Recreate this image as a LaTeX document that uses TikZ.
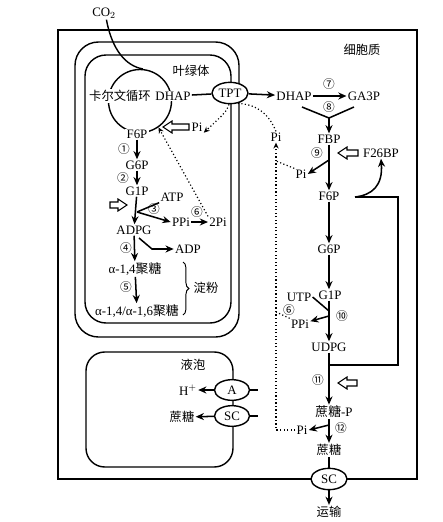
\documentclass[tikz,border=0pt]{standalone}
\usepackage{fontspec}
\setmainfont{Liberation Serif}
\newfontfamily\cjk{Noto Sans CJK SC}
\usepackage{tikz}
\usetikzlibrary{arrows.meta, shapes.geometric, decorations.pathreplacing}

\begin{document}
\begin{tikzpicture}[x=0.03cm, y=-0.03cm,
    every node/.style={inner sep=1pt, font=\fontsize{11}{13}\selectfont},
    zh/.style={font=\cjk\fontsize{10.5}{12}\selectfont},
    num/.style={font=\cjk\fontsize{10}{11}\selectfont},
    memb/.style={line width=1.2pt},
    link/.style={line width=1.3pt},
    arr/.style={link, -{Stealth[length=7pt, width=6pt]}},
    dots/.style={dotted, line width=1pt},
    dotarr/.style={dots, -{Stealth[length=5pt, width=4.5pt]}},
    carrier/.style={ellipse, draw, memb, fill=white, inner sep=0pt, minimum width=1.08cm, minimum height=0.64cm},
    hollowarrow/.pic={\draw[line width=0.9pt, fill=white, line join=miter] (0,0) -- (9,-6) -- (9,-3) -- (#1,-3) -- (#1,3) -- (9,3) -- (9,6) -- cycle;}
]
\useasboundingbox (0,0) rectangle (443,522);

% membranes
\draw[memb] (58,30) rectangle (417,479);
\draw[memb, rounded corners=20pt] (75,42) rectangle (239,337);
\draw[memb, rounded corners=18pt] (85,55) rectangle (231,323);
\draw[memb, rounded corners=16pt] (86,352) rectangle (233,467);

% chloroplast
\node[circle, draw, memb, minimum size=1.89cm, inner sep=0pt] (calv) at (140,101) {};
\node (co2) at (104,13) {CO$_2$};
\draw[memb] (co2.-70) .. controls (112,50) and (126,66) .. (calv.85);
\node[zh, fill=white] (cyc) at (120,96) {卡尔文循环};
\node[fill=white] (dhapc) at (173,96) {DHAP};
\node[zh] (chl) at (191,71) {叶绿体};
\node[fill=white] (f6pc) at (137,134) {F6P};
\node (pic) at (197,127) {Pi};
\pic at (163,127) {hollowarrow=26};
\node[num] (n1) at (124,149) {①};
\node (g6pc) at (137,165) {G6P};
\node[num] (n2) at (123,178) {②};
\node (g1pc) at (137,191) {G1P};
\node (atpc) at (172,197) {ATP};
\pic[xscale=-1] at (127,205) {hollowarrow=17};
\node[num] (n3) at (154,209) {③};
\node (ppic) at (181,222) {PPi};
\node[num] (n6a) at (197,212) {⑥};
\node (pi2) at (218,222) {2Pi};
\node (adpg) at (134,230) {ADPG};
\node[num] (n4) at (126,248) {④};
\node (adp) at (188,249) {ADP};
\node (glu14) at (135,269) {α-1,4{\cjk 聚糖}};
\node[num] (n5) at (126,287) {⑤};
\node (glu16) at (137,311) {α-1,4/α-1,6{\cjk 聚糖}};
\node[zh] (starch) at (206,288) {淀粉};
\coordinate (j3) at (137,212);
\coordinate (j4) at (139,238);
\draw[arr] (f6pc) -- (g6pc);
\draw[arr] (g6pc) -- (g1pc);
\draw[arr] (g1pc) -- (adpg);
\draw[link] (atpc.south west) -- (j3);
\draw[arr] (j3) -- (ppic.west);
\draw[arr] (ppic) -- (pi2);
\draw[dotarr] (pi2.north west) -- (calv.-55);
\draw[arr] (adpg) -- (glu14);
\draw[arr] (j4) -- (152,249) -- (adp.west);
\draw[arr] (glu14) -- (glu16);
\draw[line width=0.8pt, decorate, decoration={brace, amplitude=5pt}] (183,262) -- (183,315);

% envelope transport
\node[carrier] (tpt) at (230,93) {TPT};
\draw[link] (dhapc) -- (tpt);

% cytosol
\node[zh] (cyto) at (362,50) {细胞质};
\node (dhap) at (294,96) {DHAP};
\node[num] (n7) at (329,84) {⑦};
\node (ga3p) at (364,96) {GA3P};
\node[num] (n8) at (329,107) {⑧};
\node (fbp) at (329,139) {FBP};
\node[num] (n9) at (317,153) {⑨};
\node (f26bp) at (381,153) {F26BP};
\pic at (338,153) {hollowarrow=20};
\node (pi9) at (301,174) {Pi};
\node (pitop) at (276,137) {Pi};
\node (f6p) at (329,196) {F6P};
\node (g6p) at (329,249) {G6P};
\node (g1p) at (330,295) {G1P};
\node (utp) at (299,297) {UTP};
\node[num] (n10) at (342,316) {⑩};
\node (ppi) at (300,324) {PPi};
\node[num] (n6b) at (289,310) {⑥};
\node (udpg) at (329,347) {UDPG};
\node[num] (n11) at (318,380) {⑪};
\pic at (338,383) {hollowarrow=19};
\node (sucp) at (334,412) {{\cjk 蔗糖}-P};
\node[num] (n12) at (341,428) {⑫};
\node (pi12) at (302,430) {Pi};
\node[zh] (suc) at (329,450) {蔗糖};
\node[carrier] (sc) at (329,479) {SC};
\node[zh] (trans) at (329,512) {运输};

\coordinate (v8) at (329,118);
\coordinate (v8l) at (302,107);
\coordinate (v8r) at (354,107);
\coordinate (b9) at (329,160);
\coordinate (k6) at (355,197);
\coordinate (j10) at (329,311);
\coordinate (b10) at (329,316);
\coordinate (j11) at (329,365);
\coordinate (b12) at (329,425);
\coordinate (d9) at (276,161);
\coordinate (d6) at (276,312);
\coordinate (d12) at (276,430);

\draw[arr] (tpt) -- (dhap);
\draw[arr] (dhap) -- (ga3p);
\draw[link] (v8l) -- (v8) -- (v8r);
\draw[arr] (v8) -- (fbp);
\draw[arr] (fbp) -- (f6p);
\draw[arr] (b9) -- (pi9.east);
\draw[arr] (k6) .. controls (372,195) and (383,186) .. (f26bp.south);
\draw[link] (k6) -- (398,197) |- (j11);
\draw[arr] (f6p) -- (g6p);
\draw[arr] (g6p) -- (g6p |- g1p.north);
\draw[arr] (g1p.south -| g6p) -- (udpg);
\draw[link] (utp.east) -- (j10);
\draw[arr] (b10) -- (ppi.15);
\draw[arr] (udpg) -- (udpg |- sucp.north);
\draw[arr] (suc |- sucp.south) -- (suc);
\draw[arr] (b12) -- (pi12.east);
\draw[link] (suc) -- (sc);
\draw[arr] (sc) -- (trans);

% Pi return
\draw[dotarr] (pi12.west) -- (d12) -- (pitop.south);
\draw[dots] (pi9.north west) -- (d9);
\draw[dots] (ppi.north west) -- (d6);
\draw[dots] (pitop.north) .. controls (268,112) and (255,104) .. (tpt.-55);
\draw[dotarr] (tpt.-95) .. controls (226,112) .. (pic.south east);

% vacuole
\node[zh] (vac) at (193,365) {液泡};
\node[carrier, minimum width=1.05cm, minimum height=0.62cm] (A) at (232,390) {A};
\node[carrier, minimum width=1.05cm, minimum height=0.62cm] (scv) at (232,416) {SC};
\node (hplus) at (188,390) {H$^{+}$};
\node[zh] (sucv) at (182,417) {蔗糖};
\draw[arr] (A) -- (hplus);
\draw[arr] (scv) -- (sucv);
\draw[link] (A.east) -- ++(8,0);
\draw[link] (scv.east) -- ++(8,0);
\end{tikzpicture}
\end{document}
